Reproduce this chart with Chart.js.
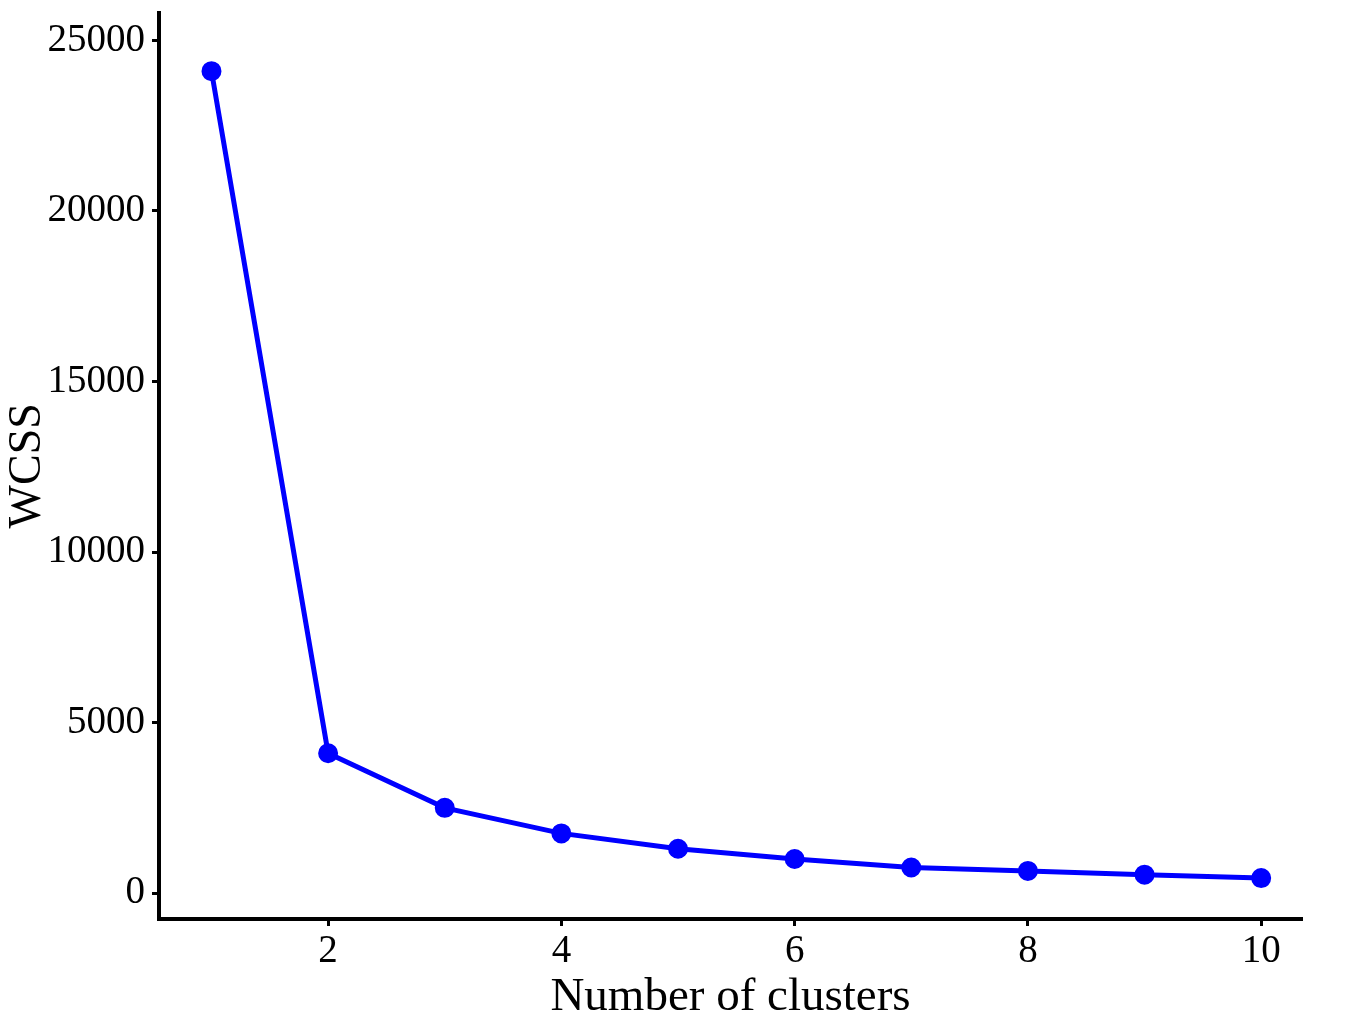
<!DOCTYPE html>
<html>
<head>
<meta charset="utf-8">
<script src="https://cdn.jsdelivr.net/npm/chart.js@4"></script>
<style>
  html, body { margin: 0; padding: 0; background: #fff; }
  #wrap { width: 1350px; height: 1026px; }
</style>
</head>
<body>
<div id="wrap"><canvas id="elbow" width="1350" height="1026"></canvas></div>
<script>
// elbow curve data
const clusters = [1, 2, 3, 4, 5, 6, 7, 8, 9, 10];
const wcss = [24100, 4100, 2500, 1750, 1300, 1000, 750, 650, 540, 440];
const xTicks = [2, 4, 6, 8, 10];
const yTicks = [0, 5000, 10000, 15000, 20000, 25000];

const serif = '"Liberation Serif", "Times New Roman", serif';

new Chart(document.getElementById('elbow').getContext('2d'), {
  type: 'line',
  data: {
    datasets: [{
      data: clusters.map((c, i) => ({ x: c, y: wcss[i] })),
      borderColor: '#0000ff',
      backgroundColor: '#0000ff',
      borderWidth: 5,
      pointRadius: 7.5,
      pointHoverRadius: 7.5,
      tension: 0
    }]
  },
  options: {
    responsive: false,
    animation: false,
    layout: { padding: { top: 12, right: 48, bottom: 0, left: 0 } },
    plugins: { legend: { display: false }, tooltip: { enabled: false } },
    scales: {
      x: {
        type: 'linear',
        min: 0.55,
        max: 10.35,
        afterBuildTicks: s => { s.ticks = xTicks.map(v => ({ value: v })); },
        afterFit: s => { s.height = 107; s.paddingLeft = 0; s.paddingRight = 0; },
        border: { display: true, width: 4, color: '#000' },
        grid: { drawOnChartArea: false, drawTicks: true, tickLength: 7, tickWidth: 3, tickColor: '#000' },
        ticks: { color: '#000', padding: 2, font: { family: serif, size: 39 }, maxRotation: 0 },
        title: { display: true, text: 'Number of clusters', color: '#000', padding: { top: 0, bottom: 0 }, font: { family: serif, size: 47 } }
      },
      y: {
        min: -760,
        max: 25820,
        afterBuildTicks: s => { s.ticks = yTicks.map(v => ({ value: v })); },
        afterFit: s => { s.width = 159; s.paddingTop = 0; s.paddingBottom = 0; },
        border: { display: true, width: 4, color: '#000' },
        grid: { drawOnChartArea: false, drawTicks: true, tickLength: 7, tickWidth: 3, tickColor: '#000' },
        ticks: { color: '#000', padding: 7, font: { family: serif, size: 39 }, callback: v => String(v) },
        title: { display: true, text: 'WCSS', color: '#000', padding: { top: 0, bottom: 0 }, font: { family: serif, size: 46 } }
      }
    }
  }
});
</script>
</body>
</html>
